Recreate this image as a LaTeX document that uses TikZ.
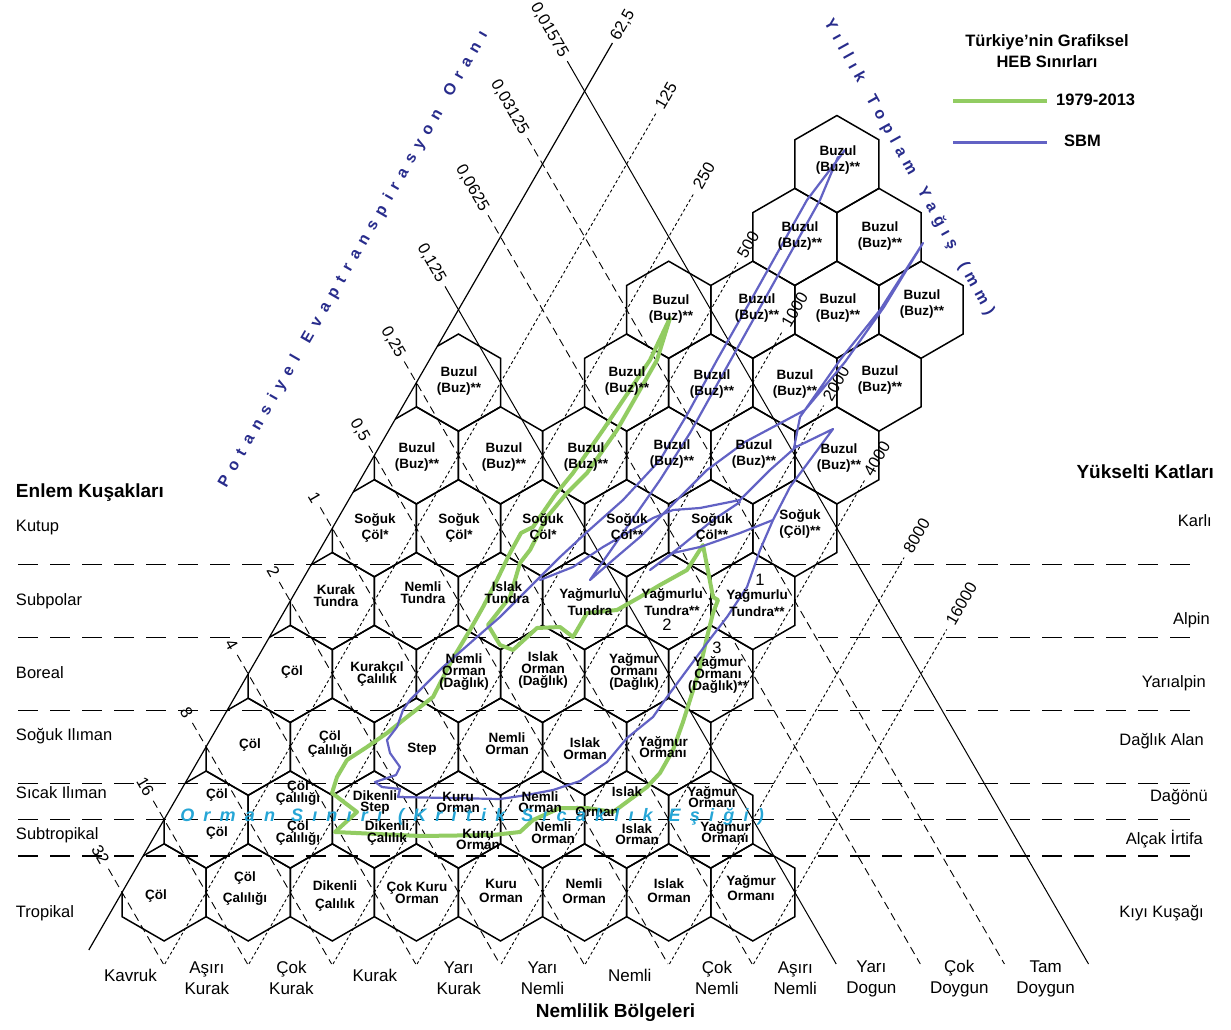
\documentclass[tikz,border=0pt]{standalone}
\usepackage{fontspec}
\setmainfont{Liberation Sans}
\makeatletter
\newcommand\lsp[2]{\def\lsp@gap{#1}\@tfor\lsp@c:=#2\do{\lsp@c\hspace{\lsp@gap}}\unskip}
\makeatother
\newcommand\hb[1]{\fontsize{13.5}{#1}\selectfont\bfseries\lineskiplimit=-50pt\relax}
\newcommand\humfont{\fontsize{17}{21}\selectfont\lineskiplimit=-50pt\relax}
\definecolor{gline}{RGB}{146,204,98}
\definecolor{bline}{RGB}{98,98,196}
\definecolor{navyt}{RGB}{40,44,140}
\definecolor{cyant}{RGB}{38,166,214}
\tikzset{
  hexline/.style={line width=1.5pt, black, line join=miter},
  petd/.style={line width=0.9pt, dash pattern=on 8pt off 5pt},
  pets/.style={line width=1pt},
  prd/.style={line width=0.9pt, dash pattern=on 3pt off 2.5pt},
  hdash/.style={line width=1.4pt, dash pattern=on 20pt off 12pt},
  numlab/.style={font=\fontsize{16.5}{18}\selectfont, inner sep=0pt},
  hx/.style={align=center, inner sep=0pt},
  sidelab/.style={font=\fontsize{16.5}{18}\selectfont, inner sep=0pt},
  humlab/.style={font=\humfont, align=center, inner sep=0pt},
  headlab/.style={font=\fontsize{19}{21}\selectfont\bfseries, inner sep=0pt},
  leglab/.style={font=\fontsize{16.5}{21}\selectfont\bfseries, inner sep=0pt},
  gcurve/.style={gline, line width=4pt, line join=round, line cap=round},
  bcurve/.style={bline, line width=2.2pt, line join=round, line cap=round},
  hexpic/.pic={\draw[hexline] (0,-48.56) -- (42.05,-24.28) -- (42.05,24.28) -- (0,48.56) -- (-42.05,24.28) -- (-42.05,-24.28) -- cycle;}
}
\begin{document}
\begin{tikzpicture}[x=1pt,y=-1pt]
\useasboundingbox (0,0) rectangle (1231,1030);
\fill[white] (0,0) rectangle (1231,1030);

% horizontal belt lines
\foreach \yy in {564.7,637.5,710.4,783.2,819.6,856.0}{
  \draw[hdash] (18,\yy) -- (1202,\yy);
}

% precipitation lines (up-right)
\foreach \j/\lab/\cy/\hl in {0/125/96/13.4, 1/250/176/13.4, 2/500/245/13.4, 3/1000/310/17.8, 4/2000/384/17.8, 5/4000/459/17.8, 6/8000/536/17.8, 7/16000/604/22.3}{
  \pgfmathsetmacro\ye{\cy+(\hl+7)*0.866}
  \pgfmathsetmacro\xb{164.1+84.1*\j}
  \draw[prd] ({\xb+1.2/1.7320508},964) -- ({\xb+(965.2-\ye)/1.7320508},\ye);
  \node[numlab,rotate=60] (pl\j) at ({\xb+(965.2-\cy)/1.7320508},\cy) {\lab};
}
% left solid boundary (62,5)
\draw[line width=1.2pt] ({80+15.2/1.7320508},950) -- ({80+(965.2-43)/1.7320508},43);
\node[numlab,rotate=60] (pl62) at ({80+(965.2-25)/1.7320508},25) {62,5};

% PET ratio lines (down-right)
\foreach \k/\lab/\cy/\hl/\sty in {0/32/855/8.9/petd, 1/16/787/8.9/petd, 2/8/713/4.45/petd, 3/4/645/4.45/petd, 4/2/572/4.45/petd, 5/1/497.5/4.45/petd, 6/{0,5}/430/11.1/petd, 7/{0,25}/342/15.6/petd, 8/{0,125}/263/20/pets, 9/{0,0625}/188/24.5/petd, 10/{0,03125}/107/29/petd, 11/{0,01575}/30/29/pets}{
  \pgfmathsetmacro\ys{\cy+(\hl+7)*0.866}
  \pgfmathsetmacro\xb{164.1+84.1*\k}
  \draw[\sty] ({\xb-(965.2-\ys)/1.7320508},\ys) -- ({\xb-1.2/1.7320508},964);
  \node[numlab,rotate=-60] (kl\k) at ({\xb-(965.2-\cy)/1.7320508},\cy) {\lab};
}

% hexagons clipped by left boundary
\begin{scope}
  \clip (2.2,1100) -- (666.1,-50) -- (1300,-50) -- (1300,1100) -- cycle;
  \foreach \r/\kmax in {0/7,1/6,2/5,3/5,4/5,5/5,6/5}{
    \foreach \k in {0,...,\kmax}{
      \pic at ({164.1+42.05*\r+84.1*\k},{892.4-72.83*\r}) {hexpic};
    }
  }
  \foreach \r/\k in {7/0,7/2,7/3,7/4,7/5,8/2,8/3,8/4,8/5,9/3,9/4,10/3}{
    \pic at ({164.1+42.05*\r+84.1*\k},{892.4-72.83*\r}) {hexpic};
  }
\end{scope}

% green boundary (1979-2013)
\draw[gcurve] (670,318) -- (650,360) -- (603,430) -- (573,473) -- (555,495) -- (533,527) -- (521,533) -- (510,553) -- (497,580) -- (483,607) -- (470,630) -- (452,660) -- (433,697) -- (407,717) -- (387,733) -- (367,747) -- (347,760) -- (337,777) -- (332,793) -- (357,812) -- (335,832) -- (420,836) -- (493,835) -- (520,832) -- (533,820) -- (560,808) -- (587,808) -- (613,812) -- (620,807) -- (647,787) -- (660,773) -- (673,750) -- (683,722) -- (690,700) -- (700,668) -- (707,637) -- (713,613) -- (718,600) -- (713,597) -- (703,545) -- (687,570) -- (660,585) -- (640,597) -- (617,610) -- (587,613) -- (573,637) -- (560,627) -- (537,628) -- (513,650) -- (500,645) -- (488,625) -- (510,597) -- (520,563) -- (530,550) -- (547,517) -- (567,493) -- (587,473) -- (617,430) -- (657,360) -- cycle;

% blue boundary (SBM)
\draw[bcurve] (845,150) -- (807,200) -- (751,300) -- (717,360) -- (688,413) -- (660,460) -- (623,500) -- (587,532) -- (560,557) -- (540,577) -- (500,617) -- (477,637) -- (443,667) -- (410,700) -- (403,710) -- (397,727) -- (387,740) -- (390,753) -- (400,767) -- (396,775) -- (375,782) -- (382,787) -- (400,789) -- (398,797) -- (500,799) -- (527,795) -- (553,790) -- (580,781) -- (607,762) -- (627,738) -- (653,717) -- (667,697) -- (687,670) -- (707,643) -- (727,617) -- (747,587) -- (760,550) -- (773,520) -- (790,487) -- (833,429) -- (794,448) -- (800,417) -- (840,360) -- (880,310) -- (923,243) -- (884,307) -- (845,362) -- (805,410) -- (745,442) -- (707,470) -- (640,537) -- (613,560) -- (590,580) -- (625,530) -- (660,480) -- (690,433) -- (820,200) -- (838,157);
\draw[bcurve] (797,446) -- (770,470) -- (740,500) -- (700,508) -- (673,510) -- (653,518) -- (603,547) -- (573,567) -- (540,580);
\draw[bcurve] (773,520) -- (740,533) -- (700,547) -- (673,553) -- (650,570) -- (680,547) -- (713,520) -- (740,502);

% hexagon labels
\node[hx,font=\hb{16.7}] (h10a) at (838,160) {Buzul\\(Buz)**};
\node[hx,font=\hb{16.7}] (h9a) at (800,236) {Buzul\\(Buz)**};
\node[hx,font=\hb{16.7}] (h9b) at (880,236) {Buzul\\(Buz)**};
\node[hx,font=\hb{16.7}] (h8a) at (671,309) {Buzul\\(Buz)**};
\node[hx,font=\hb{16.7}] (h8b) at (757,308) {Buzul\\(Buz)**};
\node[hx,font=\hb{16.7}] (h8c) at (838,308) {Buzul\\(Buz)**};
\node[hx,font=\hb{16.7}] (h8d) at (922,304) {Buzul\\(Buz)**};
\node[hx,font=\hb{16.7}] (h7a) at (459,381) {Buzul\\(Buz)**};
\node[hx,font=\hb{16.7}] (h7b) at (627,381) {Buzul\\(Buz)**};
\node[hx,font=\hb{16.7}] (h7c) at (712,384) {Buzul\\(Buz)**};
\node[hx,font=\hb{16.7}] (h7d) at (795,384) {Buzul\\(Buz)**};
\node[hx,font=\hb{16.7}] (h7e) at (880,380) {Buzul\\(Buz)**};
\node[hx,font=\hb{16.7}] (h6a) at (417,457) {Buzul\\(Buz)**};
\node[hx,font=\hb{16.7}] (h6b) at (504,457) {Buzul\\(Buz)**};
\node[hx,font=\hb{16.7}] (h6c) at (586,457) {Buzul\\(Buz)**};
\node[hx,font=\hb{16.7}] (h6d) at (672,454) {Buzul\\(Buz)**};
\node[hx,font=\hb{16.7}] (h6e) at (754,454) {Buzul\\(Buz)**};
\node[hx,font=\hb{16.7}] (h6f) at (839,458) {Buzul\\(Buz)**};
\node[hx,font=\hb{16.7}] (h5a) at (375,528) {Soğuk\\Çöl*};
\node[hx,font=\hb{16.7}] (h5b) at (459,528) {Soğuk\\Çöl*};
\node[hx,font=\hb{16.7}] (h5c) at (543,528) {Soğuk\\Çöl*};
\node[hx,font=\hb{16.7}] (h5d) at (627,528) {Soğuk\\Çöl**};
\node[hx,font=\hb{16.7}] (h5e) at (712,528) {Soğuk\\Çöl**};
\node[hx,font=\hb{16.7}] (h5f) at (800,524) {Soğuk\\(Çöl)**};
\node[hx,font=\hb{12.3}] (h4a) at (336,596) {Kurak\\Tundra};
\node[hx,font=\hb{11.7}] (h4b) at (423,593) {Nemli\\Tundra};
\node[hx,font=\hb{11.7}] (h4c) at (507,593) {Islak\\Tundra};
\node[hx,font=\hb{16.7}] (h4d) at (590,602) {Yağmurlu\\Tundra};
\node[hx,font=\hb{16.7}] (h4e) at (672,602) {Yağmurlu\\Tundra**};
\node[hx,font=\hb{16.7}] (h4f) at (757,603) {Yağmurlu\\Tundra**};
\node[numlab] (n1) at (760,580) {1};
\node[numlab] (n2) at (667,625) {2};
\node[numlab] (n3) at (717,648) {3};
\node[hx,font=\hb{14}] (h3a) at (292,672) {Çöl};
\node[hx,font=\hb{11.5}] (h3b) at (377,674) {Kurakçıl\\Çalılık};
\node[hx,font=\hb{11.7}] (h3c) at (464,672) {Nemli\\Orman\\(Dağlık)};
\node[hx,font=\hb{11.7}] (h3d) at (543,670) {Islak\\Orman\\(Dağlık)};
\node[hx,font=\hb{11.7}] (h3e) at (634,672) {Yağmur\\Ormanı\\(Dağlık)};
\node[hx,font=\hb{11.7}] (h3f) at (718,675) {Yağmur\\Ormanı\\(Dağlık)**};
\node[hx,font=\hb{14}] (h2a) at (250,745) {Çöl};
\node[hx,font=\hb{13.3}] (h2b) at (330,744) {Çöl\\Çalılığı};
\node[hx,font=\hb{14}] (h2c) at (422,749) {Step};
\node[hx,font=\hb{11.7}] (h2d) at (507,744) {Nemli\\Orman};
\node[hx,font=\hb{11.7}] (h2e) at (585,749) {Islak\\Orman};
\node[hx,font=\hb{11.5}] (h2f) at (663,747) {Yağmur\\Ormanı};
\node[hx,font=\hb{14}] (h1a) at (217,795) {Çöl};
\node[hx,font=\hb{11.7}] (h1b) at (298,793) {Çöl\\Çalılığı};
\node[hx,font=\hb{11}] (h1c) at (375,803) {Dikenli\\Step};
\node[hx,font=\hb{11}] (h1d) at (458,802) {Kuru\\Orman};
\node[hx,font=\hb{11}] (h1e) at (540,802) {Nemli\\Orman};
\node[hx,font=\hb{14}] (h1f) at (627,792) {Islak};
\node[hx,font=\hb{14}] (h1g) at (597,812) {Orman};
\node[hx,font=\hb{10.5}] (h1h) at (712,797) {Yağmur\\Ormanı};
\node[hx,font=\hb{14}] (h1i) at (217,833) {Çöl};
\node[hx,font=\hb{11.7}] (h1j) at (298,833) {Çöl\\Çalılığı};
\node[hx,font=\hb{11.7}] (h1k) at (387,833) {Dikenli\\Çalılık};
\node[hx,font=\hb{11}] (h1l) at (478,839) {Kuru\\Orman};
\node[hx,font=\hb{11.7}] (h1m) at (553,833) {Nemli\\Orman};
\node[hx,font=\hb{11}] (h1n) at (637,834) {Islak\\Orman};
\node[hx,font=\hb{10.5}] (h1o) at (725,832) {Yağmur\\Ormanı};
\node[hx,font=\hb{14}] (h0a) at (156,896) {Çöl};
\node[hx,font=\hb{21}] (h0b) at (245,889) {Çöl\\Çalılığı};
\node[hx,font=\hb{18}] (h0c) at (335,896) {Dikenli\\Çalılık};
\node[hx,font=\hb{12.3}] (h0d) at (417,893) {Çok Kuru\\Orman};
\node[hx,font=\hb{14.7}] (h0e) at (501,891) {Kuru\\Orman};
\node[hx,font=\hb{14.7}] (h0f) at (584,891) {Nemli\\Orman};
\node[hx,font=\hb{14}] (h0g) at (669,891) {Islak\\Orman};
\node[hx,font=\hb{15.8}] (h0h) at (751,888) {Yağmur\\Ormanı};

% axis titles
\node[navyt,font=\fontsize{16}{16}\selectfont\bfseries,inner sep=0pt,rotate=60] (pettitle) at (353.5,259.5) {\lsp{7.7pt}{Potansiyel}\hspace{17pt}\lsp{7.7pt}{Evaptranspirasyon}\hspace{17pt}\lsp{7.7pt}{Oranı}};
\node[navyt,font=\fontsize{16}{16}\selectfont\bfseries,inner sep=0pt,rotate=-61] (prtitle) at (909,167.5) {\lsp{6.4pt}{Yıllık}\hspace{17pt}\lsp{6.4pt}{Toplam}\hspace{17pt}\lsp{6.4pt}{Yağış}\hspace{17pt}\lsp{6.4pt}{(mm)}};
\node[cyant,font=\fontsize{18}{18}\selectfont\bfseries\itshape,inner sep=0pt] (forest) at (472,817) {\lsp{9.2pt}{Orman}\hspace{16pt}\lsp{9.2pt}{Sınırı}\hspace{16pt}\lsp{9.2pt}{(Kritik}\hspace{16pt}\lsp{9.2pt}{Sıcaklık}\hspace{16pt}\lsp{9.2pt}{Eşiği)}};

% legend
\node[leglab,align=center] (legtitle) at (1047,51) {Türkiye’nin Grafiksel\\HEB Sınırları};
\coordinate (ga) at (953,101);
\coordinate (gb) at (1047,101);
\draw[gline,line width=4.5pt] (ga) -- (gb);
\node[leglab,anchor=west] (leg1) at (1056,100) {1979-2013};
\coordinate (ba) at (953,143);
\coordinate (bb) at (1047,143);
\draw[bline,line width=3pt] (ba) -- (bb);
\node[leglab,anchor=west] (leg2) at (1064,141) {SBM};

% left: latitudinal belts
\node[headlab,anchor=base west] (lathead) at (15.8,497.5) {Enlem Kuşakları};
\node[sidelab,anchor=base west] (lat1) at (15.8,531.6) {Kutup};
\node[sidelab,anchor=base west] (lat2) at (15.8,605.3) {Subpolar};
\node[sidelab,anchor=base west] (lat3) at (15.8,678.9) {Boreal};
\node[sidelab,anchor=base west] (lat4) at (15.8,740.3) {Soğuk Ilıman};
\node[sidelab,anchor=base west] (lat5) at (15.8,798) {Sıcak Ilıman};
\node[sidelab,anchor=base west] (lat6) at (15.8,839.6) {Subtropikal};
\node[sidelab,anchor=base west] (lat7) at (15.8,917.4) {Tropikal};

% right: altitudinal belts
\node[headlab,anchor=base east] (althead) at (1214,478) {Yükselti Katları};
\node[sidelab,anchor=base east] (alt1) at (1212,526.3) {Karlı};
\node[sidelab,anchor=base east] (alt2) at (1210,624.5) {Alpin};
\node[sidelab,anchor=base east] (alt3) at (1206,687.7) {Yarıalpin};
\node[sidelab,anchor=base east] (alt4) at (1204,745.6) {Dağlık Alan};
\node[sidelab,anchor=base east] (alt5) at (1208,801.7) {Dağönü};
\node[sidelab,anchor=base east] (alt6) at (1203,844.5) {Alçak İrtifa};
\node[sidelab,anchor=base east] (alt7) at (1204,917.4) {Kıyı Kuşağı};

% bottom: humidity provinces
\node[humlab] (hu1) at (130.5,975) {Kavruk};
\node[humlab] (hu2) at (206.8,978) {Aşırı\\Kurak};
\node[humlab] (hu3) at (291.4,978) {Çok\\Kurak};
\node[humlab] (hu4) at (374.8,975) {Kurak};
\node[humlab] (hu5) at (458.7,978) {Yarı\\Kurak};
\node[humlab] (hu6) at (542.5,978) {Yarı\\Nemli};
\node[humlab] (hu7) at (629.8,975) {Nemli};
\node[humlab] (hu8) at (716.9,978) {Çok\\Nemli};
\node[humlab] (hu9) at (795.3,978) {Aşırı\\Nemli};
\node[humlab] (hu10) at (871.4,979) {Yarı\\Dogun};
\node[humlab] (hu11) at (959.3,979) {Çok\\Doygun};
\node[humlab] (hu12) at (1045.6,979) {Tam\\Doygun};
\node[headlab] (humhead) at (615.5,1013) {Nemlilik Bölgeleri};
\end{tikzpicture}
\end{document}
